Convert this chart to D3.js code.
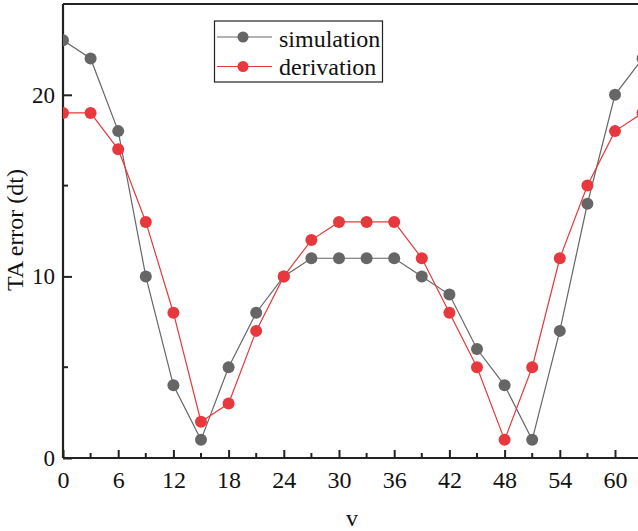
<!DOCTYPE html>
<html>
<head>
<meta charset="utf-8">
<script src="https://cdn.jsdelivr.net/npm/d3@7"></script>
<style>
  html, body { margin: 0; padding: 0; background: #fff; }
  svg { display: block; }
  svg text { font-family: "Liberation Serif", "DejaVu Serif", serif; }
</style>
</head>
<body>
<svg id="chart" width="638" height="531"></svg>
<script>
const xValues = [0, 3, 6, 9, 12, 15, 18, 21, 24, 27, 30, 33, 36, 39, 42, 45, 48, 51, 54, 57, 60, 63];
const simulation = [23, 22, 18, 10, 4, 1, 5, 8, 10, 11, 11, 11, 11, 10, 9, 6, 4, 1, 7, 14, 20, 22];
const derivation = [19, 19, 17, 13, 8, 2, 3, 7, 10, 12, 13, 13, 13, 11, 8, 5, 1, 5, 11, 15, 18, 19];
const xTicks = [0, 6, 12, 18, 24, 30, 36, 42, 48, 54, 60];
const xMinorTicks = [3, 9, 15, 21, 27, 33, 39, 45, 51, 57, 63];
const yTicks = [0, 10, 20];
const yMinorTicks = [5, 15, 25];
const seriesNames = ["simulation", "derivation"];
const seriesColors = ["#666666", "#e8383d"];

const FONT = "Liberation Serif";
const svg = d3.select("#chart");
const mLeft = 63, mTop = 4, mBottom = 458;
const pxPer6 = 55.2;
const x = d3.scaleLinear().domain([0, 64]).range([mLeft, mLeft + 64 / 6 * pxPer6]);
const y = d3.scaleLinear().domain([0, 25]).range([mBottom, mTop]);

svg.append("defs").append("clipPath").attr("id", "clip")
  .append("rect").attr("x", mLeft).attr("y", mTop - 10).attr("width", 700).attr("height", mBottom - mTop + 10);

// Top border
svg.append("line").attr("x1", mLeft).attr("x2", 640).attr("y1", y(25)).attr("y2", y(25))
  .attr("stroke", "#222").attr("stroke-width", 2);

// X axis
const xAxis = d3.axisBottom(x).tickValues(xTicks).tickSize(-8).tickPadding(13).tickFormat(d3.format("d"));
const gx = svg.append("g").attr("transform", `translate(0,${mBottom})`).call(xAxis)
  .attr("font-family", FONT);
gx.select(".domain").attr("stroke", "#222").attr("stroke-width", 2.2).attr("d", `M${mLeft},0H640`);
gx.selectAll(".tick line").attr("stroke", "#222").attr("stroke-width", 2);
gx.selectAll(".tick text").attr("font-size", 24).attr("fill", "#111").attr("font-family", FONT);
svg.append("g").selectAll("line").data(xMinorTicks).join("line")
  .attr("x1", d => x(d)).attr("x2", d => x(d)).attr("y1", mBottom).attr("y2", mBottom - 5)
  .attr("stroke", "#222").attr("stroke-width", 2);

// Y axis
const yAxis = d3.axisLeft(y).tickValues(yTicks).tickSize(-9).tickPadding(8).tickFormat(d3.format("d"));
const gy = svg.append("g").attr("transform", `translate(${mLeft},0)`).call(yAxis)
  .attr("font-family", FONT);
gy.select(".domain").attr("stroke", "#222").attr("stroke-width", 2.2).attr("d", `M0,${mBottom}V${mTop}`);
gy.selectAll(".tick line").attr("stroke", "#222").attr("stroke-width", 2);
gy.selectAll(".tick text").attr("font-size", 23).attr("fill", "#111").attr("font-family", FONT);
svg.append("g").selectAll("line").data(yMinorTicks).join("line")
  .attr("x1", mLeft).attr("x2", mLeft + 5).attr("y1", d => y(d)).attr("y2", d => y(d))
  .attr("stroke", "#222").attr("stroke-width", 2);

// Axis titles
svg.append("text").attr("x", 352).attr("y", 526).attr("text-anchor", "middle")
  .attr("font-family", FONT).attr("font-size", 24).attr("fill", "#111").text("v");
svg.append("text").attr("transform", "translate(23,230) rotate(-90)").attr("text-anchor", "middle")
  .attr("font-family", FONT).attr("font-size", 24).attr("fill", "#111").text("TA error (dt)");

// Series
const plot = svg.append("g").attr("clip-path", "url(#clip)");
const allSeries = [simulation, derivation];
allSeries.forEach((vals, i) => {
  const pts = xValues.map((xv, j) => [xv, vals[j]]);
  plot.append("path").datum(pts)
    .attr("fill", "none").attr("stroke", seriesColors[i]).attr("stroke-width", 1.2)
    .attr("d", d3.line().x(d => x(d[0])).y(d => y(d[1])));
  plot.append("g").selectAll("circle").data(pts).join("circle")
    .attr("cx", d => x(d[0])).attr("cy", d => y(d[1])).attr("r", 6)
    .attr("fill", seriesColors[i]);
});

// Legend
const lg = svg.append("g");
lg.append("rect").attr("x", 214.5).attr("y", 21).attr("width", 168).attr("height", 61)
  .attr("fill", "#fff").attr("stroke", "#222").attr("stroke-width", 1.2);
seriesNames.forEach((name, i) => {
  const cy = 37 + i * 29.5;
  lg.append("line").attr("x1", 217).attr("x2", 272).attr("y1", cy).attr("y2", cy)
    .attr("stroke", seriesColors[i]).attr("stroke-width", 1.2);
  lg.append("circle").attr("cx", 243).attr("cy", cy).attr("r", 5.5).attr("fill", seriesColors[i]);
  lg.append("text").attr("x", 279).attr("y", 47 + i * 28).attr("font-family", FONT)
    .attr("font-size", 24).attr("fill", "#111").text(name);
});
</script>
</body>
</html>
